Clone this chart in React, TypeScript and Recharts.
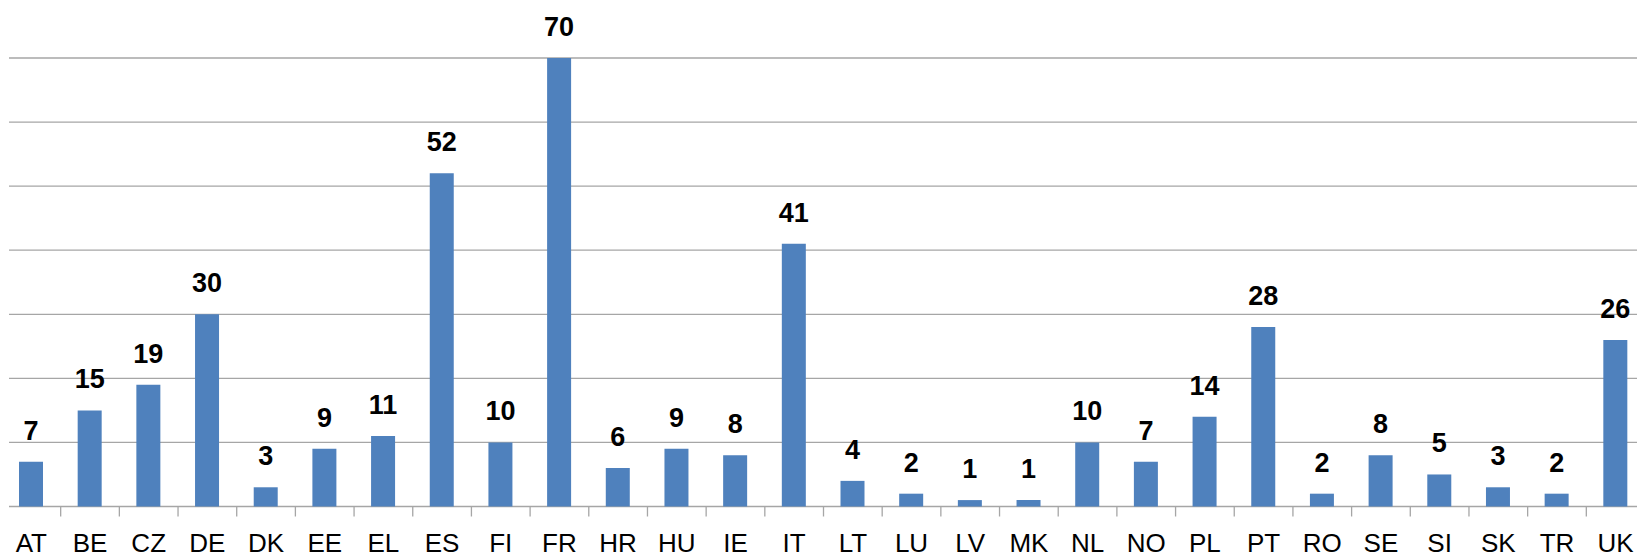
import { Bar, BarChart, CartesianGrid, LabelList, XAxis, YAxis } from "recharts";

const countries = [
  "AT", "BE", "CZ", "DE", "DK", "EE", "EL", "ES", "FI", "FR", "HR", "HU", "IE", "IT",
  "LT", "LU", "LV", "MK", "NL", "NO", "PL", "PT", "RO", "SE", "SI", "SK", "TR", "UK",
];
const counts = [
  7, 15, 19, 30, 3, 9, 11, 52, 10, 70, 6, 9, 8, 41,
  4, 2, 1, 1, 10, 7, 14, 28, 2, 8, 5, 3, 2, 26,
];
const yTicks = [0, 10, 20, 30, 40, 50, 60, 70];

const data = countries.map((c, i) => ({ country: c, value: counts[i] }));

const CHART_W = 1645;
const CHART_H = 559;
const MARGIN = { top: 58, right: 0, left: 2, bottom: 2.5 };
const BAND = (CHART_W - MARGIN.left - MARGIN.right) / countries.length;
const GRID = "#A6A6A6";
const FONT = "'Liberation Sans', Arial, sans-serif";

function CategoryTick(props: any) {
  const { x, y, payload, index } = props;
  return (
    <g>
      {index > 0 && (
        <line
          x1={x - BAND / 2}
          x2={x - BAND / 2}
          y1={y}
          y2={y + 10}
          stroke={GRID}
          strokeWidth={1.3}
        />
      )}
      <text x={x} y={y + 45.5} textAnchor="middle" fontSize={26} fill="#000" fontFamily={FONT}>
        {payload.value}
      </text>
    </g>
  );
}

export default function App() {
  return (
    <div
      style={{
        position: "absolute",
        left: 0,
        top: 0,
        width: 1637,
        height: CHART_H,
        overflow: "hidden",
        background: "#fff",
        fontFamily: FONT,
      }}
    >
      <BarChart width={CHART_W} height={CHART_H} data={data} margin={MARGIN}>
        <CartesianGrid
          vertical={false}
          stroke={GRID}
          strokeWidth={1.3}
          x={9}
          width={1640}
        />
        <XAxis
          dataKey="country"
          height={50}
          axisLine={false}
          tickLine={false}
          tickSize={0}
          tickMargin={0}
          interval={0}
          tick={<CategoryTick />}
        />
        <YAxis hide width={0} domain={[0, 70]} ticks={yTicks} />
        <Bar dataKey="value" fill="#4F81BD" barSize={24} isAnimationActive={false}>
          <LabelList
            dataKey="value"
            position="top"
            offset={22}
            fontSize={27}
            fontWeight="bold"
            fill="#000"
            fontFamily={FONT}
          />
        </Bar>
      </BarChart>
    </div>
  );
}
